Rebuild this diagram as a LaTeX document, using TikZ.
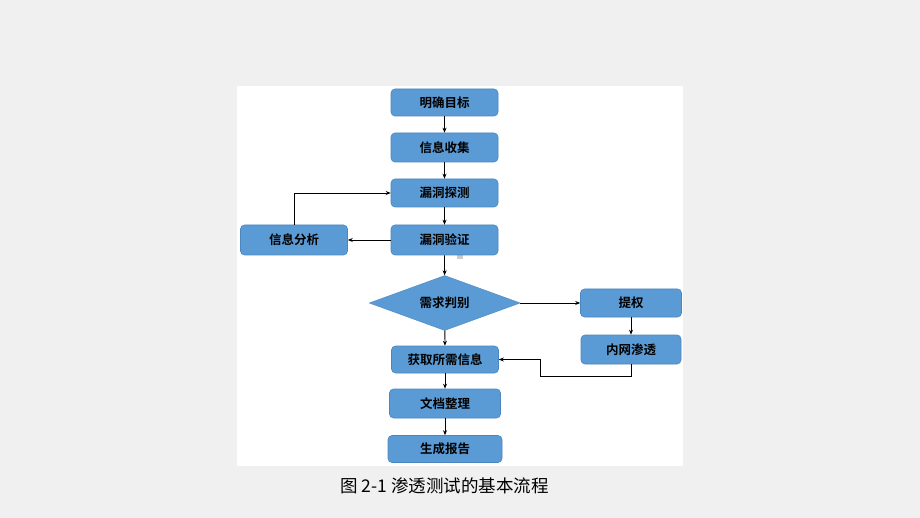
\documentclass[tikz,border=0pt]{standalone}
\usepackage{fontspec}
\newfontfamily\cjk{Noto Sans CJK SC}
\newfontfamily\cjkb{Noto Sans CJK SC Bold}
\usetikzlibrary{shapes.geometric,arrows.meta}
\definecolor{boxfill}{HTML}{5B9BD5}
\definecolor{boxline}{HTML}{4A86C0}
\definecolor{bggray}{HTML}{F0F0F0}
\tikzset{
  stepbox/.style={draw=boxline, line width=0.6pt, fill=boxfill, rounded corners=4pt, inner sep=0pt, font=\cjkb\fontsize{12.5}{14}\selectfont, text=black},
  decide/.style={diamond, draw=boxline, fill=boxfill, aspect=2.77, inner sep=0pt, minimum width=151pt, minimum height=55pt, font=\cjkb\fontsize{12.5}{14}\selectfont},
  conn/.style={draw=black, line width=0.8pt, -{Stealth[length=5pt,width=4pt]}}
}
\begin{document}
\begin{tikzpicture}[x=1pt,y=-1pt]
\useasboundingbox (0,0) rectangle (920,518);
\fill[bggray] (0,0) rectangle (920,518);
\fill[white] (237,86) rectangle (683,466);
\fill[gray!40] (457,255) rectangle (462.5,259);

\node[stepbox, minimum width=107pt, minimum height=27pt] (goal) at (444.5,102.5) {明确目标};
\node[stepbox, minimum width=107pt, minimum height=29pt] (collect) at (444.5,147.5) {信息收集};
\node[stepbox, minimum width=107pt, minimum height=28pt] (probe) at (444.5,193) {漏洞探测};
\node[stepbox, minimum width=107pt, minimum height=30pt] (verify) at (444.5,240) {漏洞验证};
\node[stepbox, minimum width=107pt, minimum height=30pt] (analyze) at (294,240) {信息分析};
\node[decide] (judge) at (444.7,303) {需求判别};
\node[stepbox, minimum width=101pt, minimum height=28pt] (priv) at (631,303) {提权};
\node[stepbox, minimum width=100pt, minimum height=29pt] (intra) at (631,349.5) {内网渗透};
\node[stepbox, minimum width=107pt, minimum height=27pt] (obtain) at (445,359.5) {获取所需信息};
\node[stepbox, minimum width=111pt, minimum height=29pt] (doc) at (445,403.5) {文档整理};
\node[stepbox, minimum width=114pt, minimum height=27pt] (report) at (445,449) {生成报告};

\draw[conn] (goal) -- (collect);
\draw[conn] (collect) -- (probe);
\draw[conn] (probe) -- (verify);
\draw[conn] (verify) -- (analyze);
\draw[conn] (analyze.north) |- (probe.west);
\draw[conn] (verify) -- (judge);
\draw[conn] (judge) -- (priv);
\draw[conn] (priv) -- (intra);
\draw[conn] (judge) -- (obtain);
\coordinate (c1) at (631,376);
\coordinate (c2) at (540,376);
\draw[conn] (intra.south) -- (c1) -- (c2) |- (obtain.east);
\draw[conn] (obtain) -- (doc);
\draw[conn] (doc) -- (report);

\node[font=\cjk\fontsize{17.5}{19}\selectfont, anchor=center] (caption) at (444.5,486) {图 2-1 渗透测试的基本流程};
\end{tikzpicture}
\end{document}
